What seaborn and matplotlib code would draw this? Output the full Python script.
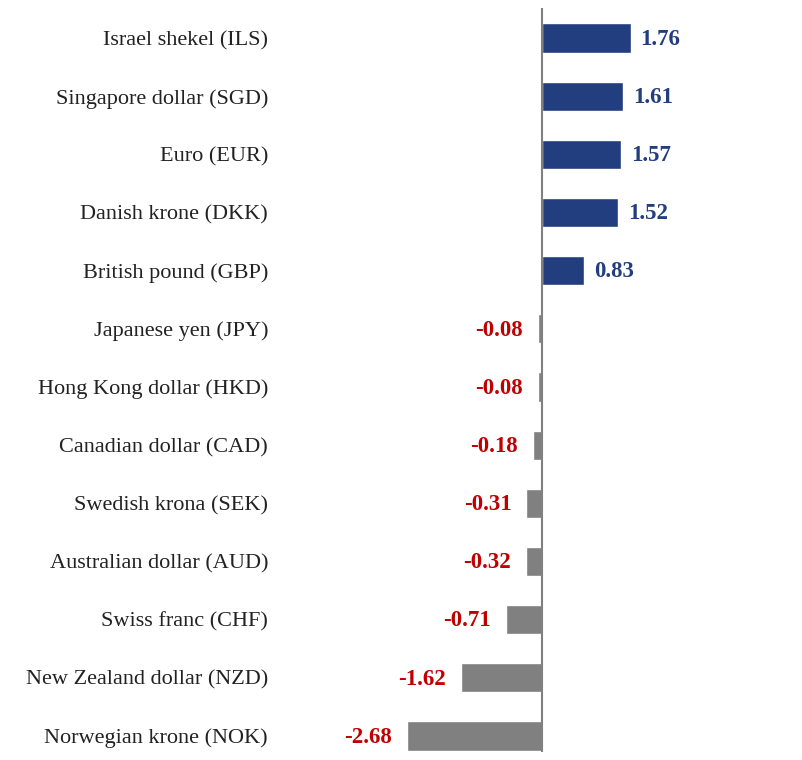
import numpy as np
import pandas as pd
import matplotlib
matplotlib.use("Agg")
import matplotlib.pyplot as plt
import seaborn as sns

# 货币名称和数值
currencies = ["Israel shekel (ILS)", "Singapore dollar (SGD)", "Euro (EUR)",
              "Danish krone (DKK)", "British pound (GBP)", "Japanese yen (JPY)",
              "Hong Kong dollar (HKD)", "Canadian dollar (CAD)", "Swedish krona (SEK)",
              "Australian dollar (AUD)", "Swiss franc (CHF)", "New Zealand dollar (NZD)",
              "Norwegian krone (NOK)"]
values = [1.76, 1.61, 1.57, 1.52, 0.83, -0.08, -0.08, -0.18, -0.31, -0.32, -0.71, -1.62, -2.68]

navy = "#233E7F"
grey = "#808080"
red = "#C00000"

df = pd.DataFrame({"currency": currencies, "value": values})
colors = [navy if v > 0 else grey for v in values]

sns.set_style("white")
plt.rcParams["font.family"] = ["Liberation Serif", "DejaVu Serif"]

fig = plt.figure(figsize=(8.02, 7.6), dpi=100)
ax = fig.add_axes([300 / 802, 1 - 752 / 760, 480 / 802, 744 / 760])

sns.barplot(data=df, x="value", y="currency", hue="currency", palette=colors,
            legend=False, width=0.5, orient="h", ax=ax, saturation=1)

ax.set_xlim(-242 / 50.3, 238 / 50.3)
ax.set_ylim(12.275, -0.516)
ax.axvline(0, color=grey, lw=1.5)

for sp in ax.spines.values():
    sp.set_visible(False)
ax.set_xticks([])
ax.set_xlabel("")
ax.set_ylabel("")
ax.tick_params(axis="y", length=0, pad=23, labelsize=16, labelcolor="#222222")

# 数值标签
for i, v in enumerate(values):
    if v > 0:
        ax.text(v + 0.2, i + 0.02, f"{v:.2f}", va="center", ha="left",
                color=navy, fontweight="bold", fontsize=16.5)
    else:
        ax.text(v - 0.3, i + 0.02, f"{v:.2f}", va="center", ha="right",
                color=red, fontweight="bold", fontsize=16.5)

fig.savefig("out.png", dpi=100)
